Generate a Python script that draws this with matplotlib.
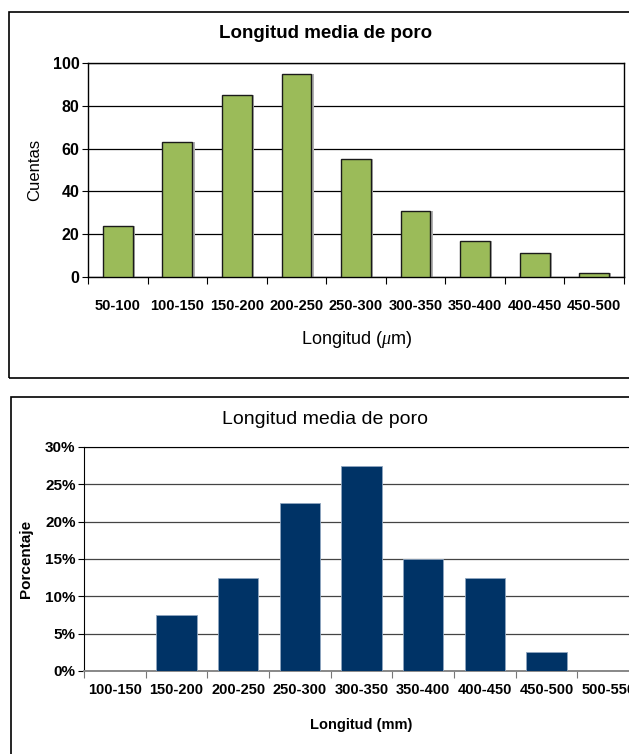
import matplotlib
matplotlib.use("Agg")
import matplotlib.pyplot as plt
from matplotlib.patches import Rectangle
import numpy as np

plt.rcParams['font.family'] = ['Liberation Sans', 'DejaVu Sans']
plt.rcParams['mathtext.fontset'] = 'custom'
plt.rcParams['mathtext.it'] = 'Liberation Serif:italic'

# Datos panel superior (cuentas)
cat_top = ['50-100', '100-150', '150-200', '200-250', '250-300',
           '300-350', '350-400', '400-450', '450-500']
cuentas = [24, 63, 85, 95, 55, 31, 17, 11, 2]

# Datos panel inferior (porcentaje)
cat_bot = ['100-150', '150-200', '200-250', '250-300', '300-350',
           '350-400', '400-450', '450-500', '500-550']
porcentaje = [0, 7.5, 12.5, 22.5, 27.5, 15, 12.5, 2.5, 0]

W, H = 629, 754
fig = plt.figure(figsize=(W / 100, H / 100), dpi=100)


def px_axes(l, t, r, b):
    return fig.add_axes([l / W, 1 - b / H, (r - l) / W, (b - t) / H])


# marcos de los dos graficos
fig.patches.append(Rectangle((9 / W, 1 - 378 / H), 640 / W, 366 / H,
                             transform=fig.transFigure, fill=False,
                             edgecolor='black', linewidth=1.2))
fig.patches.append(Rectangle((11 / W, 1 - 760 / H), 640 / W, 363 / H,
                             transform=fig.transFigure, fill=False,
                             edgecolor='black', linewidth=1.2))

# ---------------- panel superior ----------------
ax1 = px_axes(88, 63, 624, 277)
x = np.arange(len(cat_top))
ax1.bar(x + 0.04, cuentas, width=0.5, color='#b0b0b0', zorder=2)  # sombra
ax1.bar(x, cuentas, width=0.5, color='#9BBB59', edgecolor='#1a1a1a',
        linewidth=1.0, zorder=3)
ax1.set_xlim(-0.5, len(cat_top) - 0.5)
ax1.set_ylim(0, 100)
ax1.set_yticks(np.arange(0, 101, 20))
ax1.yaxis.grid(True, color='black', linewidth=0.9)
ax1.set_axisbelow(True)
ax1.set_xticks(x)
ax1.set_xticklabels(cat_top, fontweight='bold', fontsize=10.5)
ax1.set_xticks(np.arange(-0.5, len(cat_top), 1), minor=True)
ax1.tick_params(axis='x', which='major', length=0, pad=16)
ax1.tick_params(axis='x', which='minor', length=5, width=0.8)
ax1.tick_params(axis='y', length=4, width=0.8, labelsize=11.5, pad=2)
for lab in ax1.get_yticklabels():
    lab.set_fontweight('bold')
for s in ax1.spines.values():
    s.set_color('black')
    s.set_linewidth(1.0)
fig.text(326 / W, 1 - 33 / H, 'Longitud media de poro', fontweight='bold',
         fontsize=13.5, ha='center', va='center')
ax1.set_xlabel('Longitud ($\\mu$m)', fontsize=13, labelpad=11)
ax1.set_ylabel('Cuentas', fontsize=12, labelpad=8)

# ---------------- panel inferior ----------------
ax2 = px_axes(84, 447, 639, 671)
x2 = np.arange(len(cat_bot))
ax2.bar(x2, porcentaje, width=0.65, color='#003366', edgecolor='#8fa6c0',
        linewidth=0.6, zorder=3)
ax2.set_xlim(-0.5, len(cat_bot) - 0.5)
ax2.set_ylim(0, 30)
ax2.set_yticks(np.arange(0, 31, 5))
ax2.set_yticklabels([f'{v}%' for v in range(0, 31, 5)], fontweight='bold', fontsize=11)
ax2.yaxis.grid(True, color='#444444', linewidth=0.9)
ax2.set_axisbelow(True)
ax2.set_xticks(x2)
ax2.set_xticklabels(cat_bot, fontweight='bold', fontsize=10.5)
ax2.set_xticks(np.arange(-0.5, len(cat_bot), 1), minor=True)
ax2.tick_params(axis='x', which='major', length=0, pad=9)
ax2.tick_params(axis='x', which='minor', length=5, width=0.8, color='#777777')
ax2.tick_params(axis='y', length=4, width=0.8, pad=2)
ax2.spines['left'].set_color('black')
ax2.spines['top'].set_color('black')
ax2.spines['bottom'].set_color('#888888')
ax2.spines['bottom'].set_linewidth(1.4)
fig.text(325 / W, 1 - 420 / H, 'Longitud media de poro', fontsize=14,
         ha='center', va='center')
ax2.set_xlabel('Longitud (mm)', fontweight='bold', fontsize=10.5, labelpad=15)
ax2.set_ylabel('Porcentaje', fontweight='bold', fontsize=11, labelpad=9)

fig.savefig('out.png', dpi=100)
